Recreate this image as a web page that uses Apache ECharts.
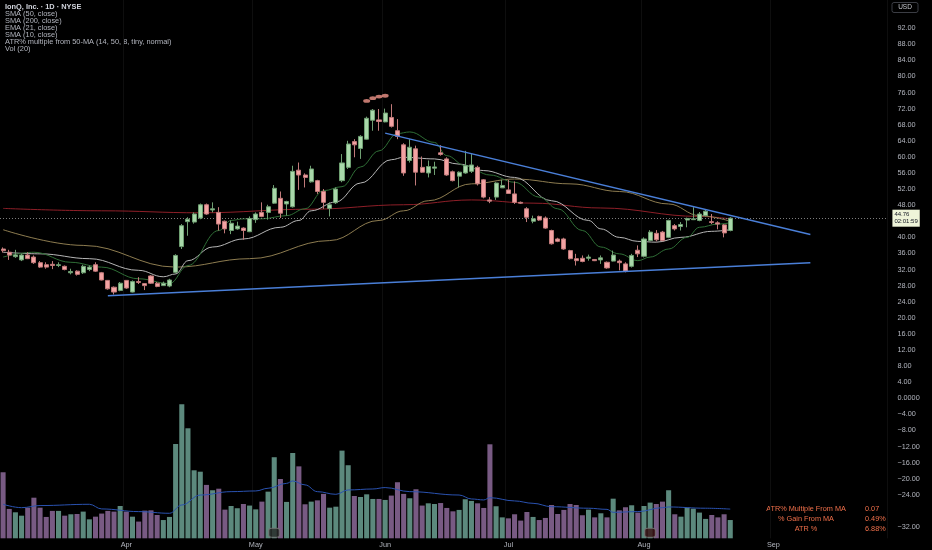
<!DOCTYPE html>
<html><head><meta charset="utf-8">
<script src="https://cdn.jsdelivr.net/npm/echarts@6/dist/echarts.min.js"></script>
<style>html,body{margin:0;padding:0;background:#000;}#c{width:932px;height:550px;}</style>
</head><body><div id="c"></div><script>
// ---- categories (trading days 2025, MM-DD) ----
const dates = [
'03-04','03-05','03-06','03-07','03-10','03-11','03-12','03-13','03-14','03-17','03-18','03-19','03-20','03-21','03-24','03-25','03-26','03-27','03-28','03-31',
'04-01','04-02','04-03','04-04','04-07','04-08','04-09','04-10','04-11','04-14','04-15','04-16','04-17','04-21','04-22','04-23','04-24','04-25','04-28','04-29','04-30',
'05-01','05-02','05-05','05-06','05-07','05-08','05-09','05-12','05-13','05-14','05-15','05-16','05-19','05-20','05-21','05-22','05-23','05-27','05-28','05-29','05-30',
'06-02','06-03','06-04','06-05','06-06','06-09','06-10','06-11','06-12','06-13','06-16','06-17','06-18','06-20','06-23','06-24','06-25','06-26','06-27','06-30',
'07-01','07-02','07-03','07-07','07-08','07-09','07-10','07-11','07-14','07-15','07-16','07-17','07-18','07-21','07-22','07-23','07-24','07-25','07-28','07-29','07-30','07-31',
'08-01','08-04','08-05','08-06','08-07','08-08','08-11','08-12','08-13','08-14','08-15','08-18','08-19','08-20','08-21','08-22','08-25','08-26','08-27','08-28','08-29',
'09-02','09-03','09-04','09-05','09-08','09-09','09-10','09-11','09-12','09-15','09-16','09-17','09-18','09-19','09-22','09-23','09-24','09-25','09-26'
];
const monthNames = ['Jan','Feb','Mar','Apr','May','Jun','Jul','Aug','Sep','Oct','Nov','Dec'];
const priceTicks = [92,88,84,80,76,72,68,64,60,56,52,48,40,36,32,28,24,20,16,12,8,4,0,-4,-8,-12,-16,-20,-24,-32];

// ---- OHLC: [open, close, low, high] ----
const ohlc = [
[37.1,36.7,36.2,37.5],[36.3,35.6,34.4,36.9],[35.2,35.6,34.9,36.9],[34.4,35.6,34.1,35.9],[35.6,34.7,34.6,36.3],
[35.1,33.7,33.4,35.5],[33.7,32.6,32.4,34.1],[33.2,32.6,32.2,33.8],[33.3,33.0,32.1,34.1],[33.0,33.2,32.6,33.8],
[32.8,32.0,31.8,33.0],[31.2,31.5,30.8,32.2],[31.6,30.8,30.5,31.8],[31.2,32.8,30.9,33.2],[32.0,32.6,31.6,33.0],
[33.2,31.6,31.4,33.8],[31.2,29.4,29.3,31.4],[29.3,27.2,27.0,29.4],[27.6,26.4,25.8,27.8],[26.8,28.6,26.6,28.9],
[29.3,27.4,27.2,29.4],[26.4,29.0,26.3,29.3],[29.0,28.8,28.4,30.1],[28.5,28.0,26.9,28.6],[30.4,28.6,28.4,30.6],
[28.6,27.8,27.6,28.9],[28.0,28.6,27.9,29.0],[27.9,29.4,27.6,29.7],[31.3,35.5,31.0,35.8],[37.7,42.9,37.1,43.3],
[43.9,44.5,40.4,45.0],[43.8,45.8,43.4,46.2],[44.8,48.1,44.5,48.4],[48.1,45.8,45.6,48.4],[46.8,47.1,46.2,48.7],
[46.2,43.3,41.7,47.5],[44.0,42.1,41.0,44.2],[41.7,43.5,40.8,44.2],[42.1,42.8,41.9,43.9],[42.3,41.7,39.4,42.5],
[41.4,44.7,41.3,45.2],[44.4,45.8,43.6,46.2],[46.2,45.2,45.0,48.7],[46.2,47.6,44.4,48.1],[48.5,52.2,48.3,53.0],
[49.7,46.0,44.8,51.4],[48.3,48.9,45.4,49.1],[47.6,56.4,47.4,57.8],[56.7,55.5,51.8,58.6],[55.5,54.9,52.4,55.9],
[53.8,57.0,53.6,57.8],[54.1,51.4,50.8,54.3],[51.4,48.7,47.1,52.0],[47.2,48.1,45.2,48.7],[48.6,52.0,48.3,52.4],
[54.1,58.5,53.7,60.7],[57.4,63.2,57.0,64.0],[63.8,63.0,59.9,64.4],[62.1,65.1,59.5,65.4],[64.4,69.6,64.3,70.0],
[69.1,71.6,66.5,71.9],[69.2,68.8,66.5,71.9],[68.7,70.9,68.6,72.0],[69.8,67.6,67.3,73.1],[66.5,65.1,64.4,69.4],
[63.0,56.0,55.3,63.4],[59.1,62.4,58.6,64.4],[62.0,56.2,52.9,62.8],[57.4,56.2,56.0,60.1],[56.0,57.6,54.9,59.1],
[57.2,57.5,55.5,58.8],[61.0,60.6,60.3,62.9],[59.5,55.5,55.3,59.9],[56.3,54.1,53.9,56.6],[55.2,56.2,52.4,56.4],
[56.0,57.8,55.8,61.5],[56.4,58.0,56.0,60.7],[57.4,53.3,52.9,57.8],[54.3,50.0,49.7,54.5],[49.3,49.0,48.5,50.0],
[50.0,53.5,49.3,53.7],[52.3,52.9,52.3,54.3],[51.8,50.9,50.8,54.3],[50.8,48.7,48.3,53.9],[48.7,48.5,48.3,48.9],
[47.1,45.0,43.8,47.5],[44.0,44.6,43.5,45.4],[45.2,44.3,44.1,45.4],[44.8,42.3,42.1,45.2],[41.7,38.4,38.2,41.9],
[39.6,39.0,38.8,39.9],[39.6,37.1,36.9,39.9],[36.7,34.7,34.5,36.9],[34.7,34.2,33.0,35.9],[34.8,34.0,33.8,35.5],
[34.8,35.1,34.2,35.7],[34.5,34.2,34.1,34.6],[34.4,34.9,33.4,35.5],[33.8,32.4,32.2,34.0],[34.1,35.6,34.0,36.7],
[34.1,33.7,31.8,34.5],[33.4,31.6,31.3,33.8],[32.8,35.5,32.5,35.9],[36.8,35.9,35.1,38.0],[35.3,39.6,35.0,40.0],
[39.2,41.3,39.0,41.8],[41.0,39.4,39.0,41.8],[41.3,39.2,39.0,41.6],[40.0,44.2,39.8,44.4],[42.9,42.1,41.7,43.3],
[42.7,43.2,41.7,43.8],[44.3,44.7,42.5,44.9],[44.4,44.6,44.3,47.5],[44.2,45.8,44.0,46.3],[45.4,46.5,45.2,46.8],
[43.9,43.7,43.3,45.8],[43.6,43.3,42.0,44.0],[43.1,41.1,40.0,43.3],[41.7,44.76,41.5,45.0]
];

// ---- volume (millions) ----
const volume = [
47.0,20.9,18.5,16.1,21.8,28.9,21.8,15.2,19.5,19.5,16.1,17.1,17.3,19.0,13.5,15.4,17.6,19.5,19.0,23.0,
19.0,15.4,11.9,19.7,19.9,16.6,13.0,15.2,67.1,95.4,78.3,48.4,47.4,38.0,34.2,35.3,20.4,23.0,21.4,24.4,
23.3,20.6,26.1,33.2,57.7,42.2,25.9,60.7,51.2,24.2,26.1,27.0,31.6,21.8,22.5,62.4,52.0,30.1,29.4,31.3,
28.0,28.0,27.3,30.4,39.9,31.6,28.5,34.9,23.3,24.9,24.4,25.1,21.6,19.2,20.2,27.8,26.6,24.9,21.6,66.9,
22.8,14.9,14.2,17.1,12.6,18.7,15.2,13.0,14.5,23.7,17.3,20.2,24.4,23.7,16.4,20.4,14.9,17.8,14.9,28.2,
19.9,22.1,23.5,18.3,23.0,25.4,24.4,26.1,34.2,17.1,15.4,21.8,21.1,18.3,13.8,16.6,14.9,17.1,13.0
];
const volMA = [[0,24.2],[3,21.8],[6,23.3],[14,24.2],[16,20.9],[22,19.0],[27,17.8],[29,23.7],[32,30.8],[37,33.2],[41,33.7],[43,35.6],[46,39.1],[47,40.8],[49,38.0],[51,33.2],[54,31.3],[56,34.4],[60,35.1],[62,36.1],[66,33.2],[74,30.8],[76,28.0],[78,27.3],[79,28.9],[83,26.6],[86,24.9],[89,22.5],[95,21.4],[98,20.6],[99,18.5],[103,19.0],[107,21.8],[108,22.3],[114,21.4],[118,20.8]];

// ---- indicator lines: [barIndex, value] ----
const sma10 = [[0,35.1],[5,36.3],[11,33.8],[16,32.6],[22,29.7],[27,28.5],[30,33.0],[35,41.7],[37,44.2],[39,44.6],[42,44.6],[46,45.4],[49,47.1],[52,51.6],[55,52.6],[58,57.5],[61,61.5],[64,65.8],[66,66.2],[70,63.6],[72,60.3],[75,57.8],[79,55.5],[83,53.7],[87,50.0],[90,47.1],[94,41.7],[97,37.6],[100,35.9],[103,34.2],[105,35.1],[108,37.1],[111,40.0],[113,42.5],[116,43.3],[118,43.6]];
const ema21 = [[0,36.3],[6,35.9],[14,34.7],[22,31.8],[26,30.2],[28,30.9],[30,34.2],[34,37.6],[39,39.6],[45,42.5],[48,44.2],[50,46.6],[54,48.8],[58,53.5],[63,59.3],[65,59.9],[70,59.5],[74,58.2],[78,56.6],[83,54.9],[89,49.1],[95,44.2],[97,42.1],[100,40.0],[103,39.0],[106,38.8],[110,40.0],[115,41.5],[118,41.9]];
const sma50 = [[0,41.9],[13,38.0],[28,32.6],[40,34.7],[53,39.2],[61,44.2],[65,46.6],[69,49.1],[76,53.3],[83,54.5],[92,53.3],[100,51.4],[108,48.3],[113,45.4],[118,44.0]];
const sma200 = [[0,47.2],[16,46.6],[32,46.1],[50,47.0],[65,48.1],[76,49.3],[86,48.5],[97,47.3],[113,45.2],[118,44.6]];
const trendUpper = [[62,65.9],[131,40.7]];
const trendLower = [[17,25.5],[131,33.7]];
const atrDots = [[59,73.9],[60,74.6],[61,75.0],[62,75.2]];
const earnings = [[44,4],[105,4]];
const lastClose = 44.76, lastVol = 12.88, lastVolMA = 20.8;
const legendLines = ['IonQ, Inc. · 1D · NYSE','SMA (50, close)','SMA (200, close)','EMA (21, close)','SMA (10, close)','ATR% multiple from 50-MA (14, 50, 8, tiny, normal)','Vol (20)'];
const tableLabels = ['ATR% Multiple From MA','% Gain From MA','ATR %'];
const tableValues = ['0.07','0.49%','6.88%'];

const FONT = '"Liberation Sans", "DejaVu Sans", sans-serif';
const isMonthStart = (i) => i > 0 && dates[i].slice(0,2) !== dates[i-1].slice(0,2);
const fmtPrice = (v) => v === 0 ? '0.0000' : (v < 0 ? '\u2212' + Math.abs(v).toFixed(2) : v.toFixed(2));

const chart = echarts.init(document.getElementById('c'), null, {renderer: 'canvas'});

const lineSeries = (data, color, z) => ({
  type: 'line', data, yAxisIndex: 0, showSymbol: false, smooth: 0.4, smoothMonotone: 'x',
  lineStyle: {color, width: 1}, silent: true, z: z || 3
});

const graphics = [];
legendLines.forEach((t, i) => {
  graphics.push({type: 'text', x: 5, y: 6.7 + i * 7.1, silent: true,
    style: {text: t, fill: i === 0 ? '#d1d4dc' : '#b2b5be', font: (i === 0 ? 'bold ' : '') + '7.4px ' + FONT, textVerticalAlign: 'middle'}});
});
graphics.push({type: 'rect', x: 892, y: 2.5, shape: {width: 26, height: 10, r: 2}, style: {fill: '#000', stroke: '#4a4d55', lineWidth: 0.8}, silent: true});
graphics.push({type: 'text', x: 905, y: 7.6, style: {text: 'USD', fill: '#c8cad0', font: '6.5px ' + FONT, textAlign: 'center', textVerticalAlign: 'middle'}, silent: true});
tableLabels.forEach((t, i) => {
  graphics.push({type: 'text', x: 806, y: 509.3 + i * 10, silent: true,
    style: {text: t, fill: '#ef6f4a', font: '7.3px ' + FONT, textAlign: 'center', textVerticalAlign: 'middle'}});
  graphics.push({type: 'text', x: 865, y: 509.3 + i * 10, silent: true,
    style: {text: tableValues[i], fill: '#ef6f4a', font: '7.3px ' + FONT, textAlign: 'left', textVerticalAlign: 'middle'}});
});

const option = {
  backgroundColor: '#000',
  animation: false,
  grid: {left: -4, right: 44.6, top: 0, bottom: 11.7},
  xAxis: {
    type: 'category', data: dates, boundaryGap: true,
    axisLine: {show: false}, axisTick: {show: false},
    axisLabel: {interval: (i) => isMonthStart(i), formatter: (v) => monthNames[parseInt(v.slice(0,2), 10) - 1],
      color: '#b2b5be', fontSize: 7.3, margin: 3, fontFamily: FONT},
    splitLine: {show: true, interval: (i) => isMonthStart(i), lineStyle: {color: '#0e0e0e', width: 1}}
  },
  yAxis: [
    {type: 'value', position: 'right', min: -34.81, max: 99.0, scale: false,
      splitLine: {show: false}, axisLine: {show: false}, axisTick: {show: false},
      axisLabel: {customValues: priceTicks, formatter: fmtPrice, color: '#b2b5be', fontSize: 7.3, margin: 10, fontFamily: FONT}},
    {type: 'value', min: 0, max: 383.1, show: false, splitLine: {show: false}}
  ],
  series: [
    {
      type: 'bar', yAxisIndex: 1, barWidth: '82%', silent: true, z: 1,
      data: volume.map((v, i) => ({value: v, itemStyle: {color: ohlc[i][1] >= ohlc[i][0] ? '#5c897d' : '#785a83'}})),
      markLine: {
        symbol: ['none', 'none'], silent: true, animation: false,
        lineStyle: {opacity: 0, width: 0},
        data: [
          {yAxis: lastVolMA, label: {formatter: '20.8M', backgroundColor: '#2f5fcf', color: '#e8ecf5'}},
          {yAxis: lastVol, label: {formatter: '12.88M', backgroundColor: '#c3e6c5', color: '#131722'}}
        ],
        label: {position: 'end', distance: 5, fontSize: 6.3, fontFamily: FONT, padding: [0.5, 2], lineHeight: 6.5}
      }
    },
    {type: 'line', yAxisIndex: 1, data: volMA, showSymbol: false, smooth: 0.4, smoothMonotone: 'x',
      lineStyle: {color: '#2a52b0', width: 1}, silent: true, z: 2},
    {type: 'scatter', yAxisIndex: 1, data: earnings, symbol: 'roundRect', symbolSize: [11, 9], silent: true, z: 4,
      itemStyle: {color: (p) => p.dataIndex === 0 ? '#252825' : '#3a1013', borderColor: '#7a7a7a', borderWidth: 1}},
    lineSeries(sma200, '#8e1f28', 3),
    lineSeries(sma50, '#8d7c50', 3),
    lineSeries(ema21, '#b6b6b6', 3),
    lineSeries(sma10, '#2f6e36', 3),
    {
      type: 'candlestick', yAxisIndex: 0, data: ohlc, barWidth: '74%', silent: true, z: 5,
      itemStyle: {color: '#a9d8aa', color0: '#f3a3a3', borderColor: '#6f9f72', borderColor0: '#c07a7a', borderWidth: 1},
      markLine: {
        symbol: ['none', 'none'], silent: true, animation: false,
        data: [{yAxis: lastClose}],
        lineStyle: {type: [1, 2], color: '#7d7d7d', width: 1},
        label: {position: 'end', distance: 5, formatter: '44.76\n02:01:59', backgroundColor: '#eef4d9', color: '#131722',
          fontSize: 6, lineHeight: 7, padding: [1.5, 2], fontFamily: FONT}
      }
    },
    {type: 'line', yAxisIndex: 0, data: trendUpper, showSymbol: false, lineStyle: {color: '#4a7fd8', width: 1.4}, silent: true, z: 6},
    {type: 'line', yAxisIndex: 0, data: trendLower, showSymbol: false, lineStyle: {color: '#4a7fd8', width: 1.4}, silent: true, z: 6},
    {type: 'scatter', yAxisIndex: 0, data: atrDots, symbol: 'circle', symbolSize: [7, 3.8], silent: true, z: 6,
      itemStyle: {color: '#f0958a'}}
  ],
  graphic: graphics
};
chart.setOption(option);
</script></body></html>
